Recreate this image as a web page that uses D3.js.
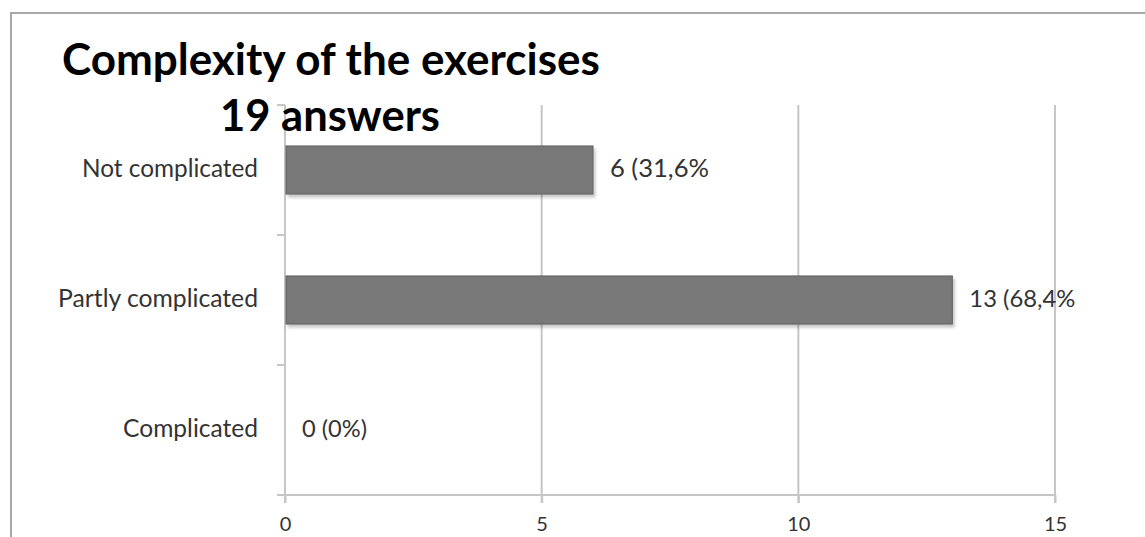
<!DOCTYPE html>
<html>
<head>
<meta charset="utf-8">
<script src="https://cdn.jsdelivr.net/npm/d3@7/dist/d3.min.js"></script>
<style>
  html, body { margin: 0; padding: 0; background: #fff; }
  svg { display: block; }
</style>
</head>
<body>
<svg id="chart" width="1145" height="537"></svg>
<script>
// ---- data ----
const categories = ["Not complicated", "Partly complicated", "Complicated"];
const counts = [6, 13, 0];
const valueLabels = ["6 (31,6%", "13 (68,4%", "0 (0%)"];
const xTicks = [0, 5, 10, 15];
const titleLines = ["Complexity of the exercises", "19 answers"];

const FONT = "Lato, 'Open Sans', 'DejaVu Sans', sans-serif";
const svg = d3.select("#chart");

// drop shadow filter
const defs = svg.append("defs");
const f = defs.append("filter").attr("id", "sh").attr("x", "-5%").attr("y", "-20%").attr("width", "115%").attr("height", "160%");
f.append("feDropShadow").attr("dx", 2).attr("dy", 3).attr("stdDeviation", 1.6)
  .attr("flood-color", "#000").attr("flood-opacity", 0.22);

// outer frame
svg.append("rect").attr("x", 11).attr("y", 13).attr("width", 1200).attr("height", 600)
  .attr("fill", "none").attr("stroke", "#a8a8a8").attr("stroke-width", 2);

const x = d3.scaleLinear().domain([0, 15]).range([285, 1055]);
const y = d3.scaleBand().domain(categories).range([105, 495])
  .paddingInner(0.63).paddingOuter(0.315);

const gridColor = "#c6c6c6";

// vertical gridlines
svg.append("g").selectAll("line").data(xTicks.slice(1)).join("line")
  .attr("x1", d => x(d)).attr("x2", d => x(d))
  .attr("y1", 105).attr("y2", 503)
  .attr("stroke", gridColor).attr("stroke-width", 2);

// y axis line and ticks at band boundaries
svg.append("line").attr("x1", x(0)).attr("x2", x(0)).attr("y1", 105).attr("y2", 503)
  .attr("stroke", gridColor).attr("stroke-width", 2);
const step = y.step();
const bounds = d3.range(categories.length + 1).map(i => 105 + i * step);
svg.append("g").selectAll("line").data(bounds).join("line")
  .attr("x1", 277).attr("x2", x(0)).attr("y1", d => d).attr("y2", d => d)
  .attr("stroke", gridColor).attr("stroke-width", 2);

// x axis
const xAxis = svg.append("g").attr("transform", "translate(0,495)")
  .call(d3.axisBottom(x).tickValues(xTicks).tickSize(8).tickPadding(0).tickFormat(d3.format("d")));
xAxis.select(".domain").attr("d", "M277,0H" + x(15)).attr("stroke", gridColor).attr("stroke-width", 2);
xAxis.selectAll(".tick line").attr("stroke", gridColor).attr("stroke-width", 2);
xAxis.selectAll(".tick text").attr("font-family", FONT).attr("font-size", 20)
  .attr("fill", "#333").attr("y", 36).attr("dy", null);

// bars
svg.append("g").selectAll("rect").data(counts).join("rect")
  .filter(d => d > 0)
  .attr("x", x(0) + 1)
  .attr("y", (d, i) => y(categories[counts.indexOf(d)]))
  .attr("width", d => x(d) - x(0) - 1)
  .attr("height", y.bandwidth())
  .attr("fill", "#787878").attr("stroke", "#606060").attr("stroke-width", 1)
  .attr("filter", "url(#sh)");

// helper to fit text to a target width
function fit(sel, w) {
  sel.each(function () {
    const t = d3.select(this);
    const fs = parseFloat(t.attr("font-size"));
    const len = this.getComputedTextLength();
    if (len > 0) t.attr("font-size", (fs * w / len).toFixed(2));
  });
}

// category labels
const catWidths = [176, 200, 135];
svg.append("g").selectAll("text").data(categories).join("text")
  .attr("x", 258).attr("y", d => y(d) + y.bandwidth() / 2 + 7)
  .attr("text-anchor", "end").attr("font-family", FONT).attr("font-size", 22)
  .attr("fill", "#333").text(d => d)
  .each(function (d, i) { fit(d3.select(this), catWidths[i]); });

// value labels
const valWidths = [99, 106, 65];
svg.append("g").selectAll("text").data(valueLabels).join("text")
  .attr("x", (d, i) => x(counts[i]) + 17)
  .attr("y", (d, i) => y(categories[i]) + y.bandwidth() / 2 + 7)
  .attr("font-family", FONT).attr("font-size", 20).attr("fill", "#333")
  .text(d => d)
  .each(function (d, i) { fit(d3.select(this), valWidths[i]); });

// titles
const t1 = svg.append("text").attr("x", 62).attr("y", 75).attr("font-family", FONT)
  .attr("font-weight", "bold").attr("font-size", 40).attr("fill", "#000").text(titleLines[0]);
fit(t1, 538);
const t2 = svg.append("text").attr("x", 220).attr("y", 131).attr("font-family", FONT)
  .attr("font-weight", "bold").attr("font-size", 40).attr("fill", "#000").text(titleLines[1]);
fit(t2, 220);
</script>
</body>
</html>
